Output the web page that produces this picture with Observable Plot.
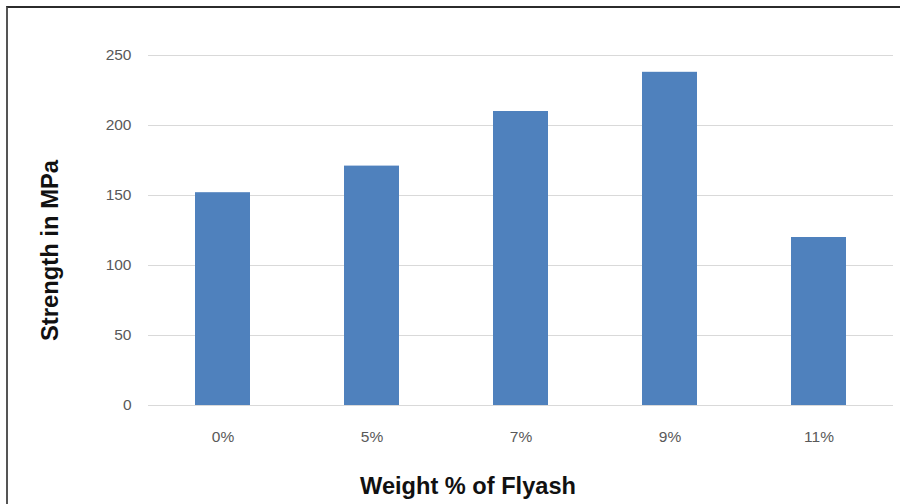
<!DOCTYPE html>
<html>
<head>
<meta charset="utf-8">
<script src="https://cdn.jsdelivr.net/npm/d3@7"></script>
<script src="https://cdn.jsdelivr.net/npm/@observablehq/plot@0.6"></script>
<style>
  html, body { margin: 0; padding: 0; background: #fff; }
  #wrap { position: relative; width: 900px; height: 504px; overflow: hidden; }
  #frame { position: absolute; left: 6px; top: 6px; width: 900px; height: 510px;
           border-top: 2px solid #2b2b2b; border-left: 2px solid #555; pointer-events: none; }
</style>
</head>
<body>
<div id="wrap"><div id="frame"></div></div>
<script>
const categories = ["0%", "5%", "7%", "9%", "11%"];
const strength = [152, 171, 210, 238, 120];
const yTicks = [0, 50, 100, 150, 200, 250];
const xTitle = "Weight % of Flyash";
const yTitle = "Strength in MPa";

const data = categories.map((c, i) => ({cat: c, value: strength[i]}));

const chart = Plot.plot({
  width: 900,
  height: 504,
  marginLeft: 148,
  marginRight: 7,
  marginTop: 55,
  marginBottom: 99,
  style: {fontFamily: "Liberation Sans, Arial, sans-serif", background: "transparent"},
  x: {domain: categories, paddingInner: 0.63, paddingOuter: 0.315, label: null},
  y: {domain: [0, 250], label: null},
  marks: [
    Plot.ruleY(yTicks, {stroke: "#d9d9d9", strokeWidth: 1}),
    Plot.barY(data, {x: "cat", y: "value", fill: "#4f81bd"}),
    Plot.axisY({ticks: yTicks, tickSize: 0, tickPadding: 17, fontSize: 15.5, color: "#595959", label: null}),
    Plot.axisX({tickSize: 0, tickPadding: 25, fontSize: 15.5, color: "#595959", label: null}),
    Plot.text([xTitle], {frameAnchor: "bottom", textAnchor: "middle", lineAnchor: "bottom", dx: -53, dy: 88, text: d => d, fontSize: 23.6, fontWeight: "bold", fill: "#111"}),
    Plot.text([yTitle], {frameAnchor: "left", textAnchor: "middle", lineAnchor: "middle", dx: -98, dy: 20, rotate: -90, text: d => d, fontSize: 23.8, fontWeight: "bold", fill: "#111"})
  ]
});
chart.style.position = "absolute";
chart.style.left = "0px";
chart.style.top = "0px";
document.getElementById("wrap").insertBefore(chart, document.getElementById("frame"));
</script>
</body>
</html>
